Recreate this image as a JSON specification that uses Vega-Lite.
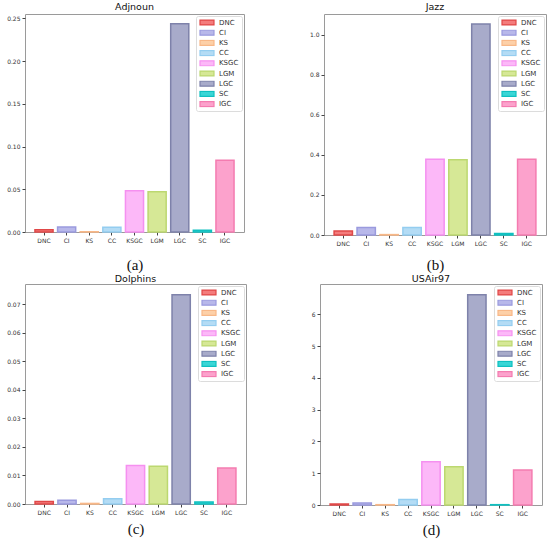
{
  "$schema": "https://vega.github.io/schema/vega-lite/v6.json",
  "background": "white",
  "padding": {"left": 6, "top": 1, "right": 2, "bottom": 2},
  "datasets": {
    "scores": [
      {"network": "Adjnoun", "method": "DNC", "value": 0.0027},
      {"network": "Adjnoun", "method": "CI", "value": 0.0059},
      {"network": "Adjnoun", "method": "KS", "value": 0.0003},
      {"network": "Adjnoun", "method": "CC", "value": 0.0055},
      {"network": "Adjnoun", "method": "KSGC", "value": 0.0483},
      {"network": "Adjnoun", "method": "LGM", "value": 0.0471},
      {"network": "Adjnoun", "method": "LGC", "value": 0.2437},
      {"network": "Adjnoun", "method": "SC", "value": 0.002},
      {"network": "Adjnoun", "method": "IGC", "value": 0.084},
      {"network": "Jazz", "method": "DNC", "value": 0.02},
      {"network": "Jazz", "method": "CI", "value": 0.038},
      {"network": "Jazz", "method": "KS", "value": 0.002},
      {"network": "Jazz", "method": "CC", "value": 0.038},
      {"network": "Jazz", "method": "KSGC", "value": 0.378},
      {"network": "Jazz", "method": "LGM", "value": 0.375},
      {"network": "Jazz", "method": "LGC", "value": 1.053},
      {"network": "Jazz", "method": "SC", "value": 0.008},
      {"network": "Jazz", "method": "IGC", "value": 0.378},
      {"network": "Dolphins", "method": "DNC", "value": 0.0009},
      {"network": "Dolphins", "method": "CI", "value": 0.0013},
      {"network": "Dolphins", "method": "KS", "value": 0.0002},
      {"network": "Dolphins", "method": "CC", "value": 0.0018},
      {"network": "Dolphins", "method": "KSGC", "value": 0.0135},
      {"network": "Dolphins", "method": "LGM", "value": 0.0132},
      {"network": "Dolphins", "method": "LGC", "value": 0.0733},
      {"network": "Dolphins", "method": "SC", "value": 0.0007},
      {"network": "Dolphins", "method": "IGC", "value": 0.0126},
      {"network": "USAir97", "method": "DNC", "value": 0.03},
      {"network": "USAir97", "method": "CI", "value": 0.06},
      {"network": "USAir97", "method": "KS", "value": 0.01},
      {"network": "USAir97", "method": "CC", "value": 0.17},
      {"network": "USAir97", "method": "KSGC", "value": 1.36},
      {"network": "USAir97", "method": "LGM", "value": 1.2},
      {"network": "USAir97", "method": "LGC", "value": 6.61},
      {"network": "USAir97", "method": "SC", "value": 0.01},
      {"network": "USAir97", "method": "IGC", "value": 1.1}
    ]
  },
  "spacing": 0,
  "resolve": {
    "scale": {"fill": "independent", "stroke": "independent", "y": "independent", "x": "independent"},
    "legend": {"fill": "independent", "stroke": "independent"}
  },
  "vconcat": [
    {
      "spacing": 63,
      "resolve": {
        "scale": {"fill": "independent", "stroke": "independent", "y": "independent", "x": "independent"},
        "legend": {"fill": "independent", "stroke": "independent"}
      },
      "hconcat": [
        {
          "title": "Adjnoun",
          "width": 219,
          "height": 218,
          "data": {"name": "scores"},
          "transform": [{"filter": "datum.network === 'Adjnoun'"}],
          "mark": {"type": "bar", "strokeWidth": 1.5},
          "encoding": {
            "x": {"field": "method", "type": "nominal", "sort": ["DNC", "CI", "KS", "CC", "KSGC", "LGM", "LGC", "SC", "IGC"], "scale": {"paddingInner": 0.2, "paddingOuter": 0.44}, "axis": {"title": "(a)", "titlePadding": 14}},
            "y": {"field": "value", "type": "quantitative", "scale": {"domain": [0, 0.255], "nice": false}, "axis": {"values": [0, 0.05, 0.1, 0.15, 0.2, 0.25], "format": ".2f", "title": null}},
            "fill": {"field": "method", "type": "nominal", "scale": {"domain": ["DNC", "CI", "KS", "CC", "KSGC", "LGM", "LGC", "SC", "IGC"], "range": ["#f47c7c", "#b8b8ea", "#fdd0a8", "#b4dcf5", "#fcb8f8", "#d6e896", "#a8abca", "#3ad6d6", "#fca2cc"]}, "legend": {"title": null}},
            "stroke": {"field": "method", "type": "nominal", "scale": {"domain": ["DNC", "CI", "KS", "CC", "KSGC", "LGM", "LGC", "SC", "IGC"], "range": ["#e04848", "#9a9ade", "#f8b888", "#94cdf0", "#f590f0", "#bcd870", "#7e82aa", "#10c0c0", "#f47cb0"]}, "legend": {"title": null}}
          }
        },
        {
          "title": "Jazz",
          "width": 222,
          "height": 221,
          "data": {"name": "scores"},
          "transform": [{"filter": "datum.network === 'Jazz'"}],
          "mark": {"type": "bar", "strokeWidth": 1.5},
          "encoding": {
            "x": {"field": "method", "type": "nominal", "sort": ["DNC", "CI", "KS", "CC", "KSGC", "LGM", "LGC", "SC", "IGC"], "scale": {"paddingInner": 0.2, "paddingOuter": 0.44}, "axis": {"title": "(b)", "titlePadding": 11}},
            "y": {"field": "value", "type": "quantitative", "scale": {"domain": [0, 1.103], "nice": false}, "axis": {"values": [0, 0.2, 0.4, 0.6, 0.8, 1.0], "format": ".1f", "title": null}},
            "fill": {"field": "method", "type": "nominal", "scale": {"domain": ["DNC", "CI", "KS", "CC", "KSGC", "LGM", "LGC", "SC", "IGC"], "range": ["#f47c7c", "#b8b8ea", "#fdd0a8", "#b4dcf5", "#fcb8f8", "#d6e896", "#a8abca", "#3ad6d6", "#fca2cc"]}, "legend": {"title": null}},
            "stroke": {"field": "method", "type": "nominal", "scale": {"domain": ["DNC", "CI", "KS", "CC", "KSGC", "LGM", "LGC", "SC", "IGC"], "range": ["#e04848", "#9a9ade", "#f8b888", "#94cdf0", "#f590f0", "#bcd870", "#7e82aa", "#10c0c0", "#f47cb0"]}, "legend": {"title": null}}
          }
        }
      ]
    },
    {
      "spacing": 63,
      "resolve": {
        "scale": {"fill": "independent", "stroke": "independent", "y": "independent", "x": "independent"},
        "legend": {"fill": "independent", "stroke": "independent"}
      },
      "hconcat": [
        {
          "title": {"text": "Dolphins", "offset": 1},
          "width": 221,
          "height": 220,
          "data": {"name": "scores"},
          "transform": [{"filter": "datum.network === 'Dolphins'"}],
          "mark": {"type": "bar", "strokeWidth": 1.5},
          "encoding": {
            "x": {"field": "method", "type": "nominal", "sort": ["DNC", "CI", "KS", "CC", "KSGC", "LGM", "LGC", "SC", "IGC"], "scale": {"paddingInner": 0.2, "paddingOuter": 0.44}, "axis": {"title": "(c)", "titlePadding": 6}},
            "y": {"field": "value", "type": "quantitative", "scale": {"domain": [0, 0.0771], "nice": false}, "axis": {"values": [0, 0.01, 0.02, 0.03, 0.04, 0.05, 0.06, 0.07], "format": ".2f", "title": null}},
            "fill": {"field": "method", "type": "nominal", "scale": {"domain": ["DNC", "CI", "KS", "CC", "KSGC", "LGM", "LGC", "SC", "IGC"], "range": ["#f47c7c", "#b8b8ea", "#fdd0a8", "#b4dcf5", "#fcb8f8", "#d6e896", "#a8abca", "#3ad6d6", "#fca2cc"]}, "legend": {"title": null}},
            "stroke": {"field": "method", "type": "nominal", "scale": {"domain": ["DNC", "CI", "KS", "CC", "KSGC", "LGM", "LGC", "SC", "IGC"], "range": ["#e04848", "#9a9ade", "#f8b888", "#94cdf0", "#f590f0", "#bcd870", "#7e82aa", "#10c0c0", "#f47cb0"]}, "legend": {"title": null}}
          }
        },
        {
          "title": {"text": "USAir97", "offset": 1},
          "width": 222,
          "height": 221,
          "data": {"name": "scores"},
          "transform": [{"filter": "datum.network === 'USAir97'"}],
          "mark": {"type": "bar", "strokeWidth": 1.5},
          "encoding": {
            "x": {"field": "method", "type": "nominal", "sort": ["DNC", "CI", "KS", "CC", "KSGC", "LGM", "LGC", "SC", "IGC"], "scale": {"paddingInner": 0.2, "paddingOuter": 0.44}, "axis": {"title": "(d)", "titlePadding": 6}},
            "y": {"field": "value", "type": "quantitative", "scale": {"domain": [0, 6.95], "nice": false}, "axis": {"values": [0, 1, 2, 3, 4, 5, 6], "format": "d", "title": null}},
            "fill": {"field": "method", "type": "nominal", "scale": {"domain": ["DNC", "CI", "KS", "CC", "KSGC", "LGM", "LGC", "SC", "IGC"], "range": ["#f47c7c", "#b8b8ea", "#fdd0a8", "#b4dcf5", "#fcb8f8", "#d6e896", "#a8abca", "#3ad6d6", "#fca2cc"]}, "legend": {"title": null}},
            "stroke": {"field": "method", "type": "nominal", "scale": {"domain": ["DNC", "CI", "KS", "CC", "KSGC", "LGM", "LGC", "SC", "IGC"], "range": ["#e04848", "#9a9ade", "#f8b888", "#94cdf0", "#f590f0", "#bcd870", "#7e82aa", "#10c0c0", "#f47cb0"]}, "legend": {"title": null}}
          }
        }
      ]
    }
  ],
  "config": {
    "font": "DejaVu Sans",
    "view": {"stroke": "#9a9a9a", "strokeWidth": 1},
    "title": {"font": "DejaVu Sans", "fontSize": 9.5, "fontWeight": "normal", "color": "#111", "offset": 3},
    "axis": {
      "grid": false,
      "domain": false,
      "labelFont": "DejaVu Sans",
      "labelFontSize": 6,
      "labelColor": "#333",
      "tickColor": "#444",
      "tickSize": 3,
      "labelPadding": 2,
      "titleFont": "Liberation Serif",
      "titleFontSize": 15,
      "titleFontWeight": "normal",
      "titleColor": "#111",
      "titlePadding": 9
    },
    "axisX": {"labelAngle": 0},
    "legend": {
      "orient": "top-right",
      "offset": 2,
      "padding": 3,
      "fillColor": "white",
      "strokeColor": "#dcdcdc",
      "cornerRadius": 2,
      "labelFont": "DejaVu Sans",
      "labelFontSize": 7,
      "labelColor": "#333",
      "labelOffset": 11,
      "rowPadding": 2.2,
      "clipHeight": 7,
      "symbolType": "M-1,-0.7H3V0.7H-1Z",
      "symbolSize": 49,
      "symbolStrokeWidth": 1.2
    }
  }
}
